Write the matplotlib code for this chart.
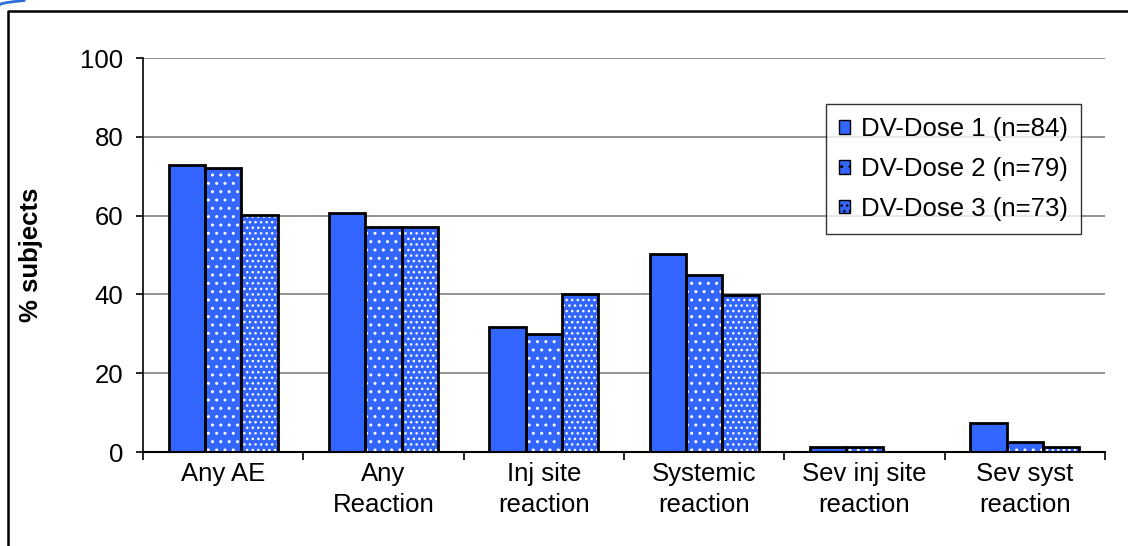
import numpy as np
import matplotlib
matplotlib.use("Agg")
import matplotlib.pyplot as plt
from matplotlib.lines import Line2D
from matplotlib.patches import Patch

plt.rcParams['font.family'] = ['Liberation Sans', 'DejaVu Sans']
plt.rcParams['hatch.linewidth'] = 1.0

categories = ["Any AE", "Any\nReaction", "Inj site\nreaction", "Systemic\nreaction",
              "Sev inj site\nreaction", "Sev syst\nreaction"]
dose1 = [72.8, 60.7, 31.8, 50.2, 1.2, 7.4]
dose2 = [72.1, 57.0, 30.0, 44.9, 1.2, 2.5]
dose3 = [60.2, 57.0, 40.0, 39.8, 0.0, 1.3]
labels = ["DV-Dose 1 (n=84)", "DV-Dose 2 (n=79)", "DV-Dose 3 (n=73)"]
hatches = [None, "..", "..."]

blue = "#3366ff"
fs = 18.5

fig = plt.figure(figsize=(11.28, 5.46), dpi=100)
ax = fig.add_axes([143 / 1128, 1 - 452 / 546, (1105 - 143) / 1128, (452 - 58) / 546])

x = np.arange(len(categories)) + 0.5
w = 0.2265
handles = []
for i, (vals, hatch) in enumerate(zip([dose1, dose2, dose3], hatches)):
    pos = x + (i - 1) * w
    # fill with white dot hatch, then a black outline on top
    ax.bar(pos, vals, w, color=blue, hatch=hatch, edgecolor="white", linewidth=0, zorder=2)
    ax.bar(pos, vals, w, fill=False, edgecolor="black", linewidth=2, zorder=3)
    handles.append(Patch(facecolor=blue, hatch=hatch, edgecolor="black", linewidth=1))

ax.set_xlim(0, len(categories))
ax.set_ylim(0, 100)
ax.set_yticks(np.arange(0, 101, 20))
ax.yaxis.grid(True, color="#808080", linewidth=1.2)
ax.set_axisbelow(True)

ax.set_xticks(np.arange(len(categories) + 1))
ax.set_xticklabels([])
ax.set_xticks(x, minor=True)
ax.set_xticklabels(categories, minor=True, fontsize=fs, linespacing=1.4)
ax.tick_params(axis="x", which="minor", length=0, pad=7)
ax.tick_params(axis="x", which="major", length=6, width=1.2, direction="out")
ax.tick_params(axis="y", length=5, width=1.2, labelsize=fs, pad=9)

for s in ["top", "right"]:
    ax.spines[s].set_visible(False)
ax.spines["left"].set_linewidth(1.2)
ax.spines["bottom"].set_linewidth(1.5)

ax.set_ylabel("% subjects", fontsize=fs, fontweight="bold")
ax.yaxis.set_label_coords(-100 / 962, 0.5)

leg = ax.legend(handles, labels, loc="upper left", bbox_to_anchor=(826 / 1128, 1 - 104 / 546),
                bbox_transform=fig.transFigure, fontsize=fs, frameon=True, fancybox=False,
                edgecolor="black", handlelength=0.45, handleheight=0.45, handletextpad=0.4,
                labelspacing=0.62, borderpad=0.5, borderaxespad=0)
leg.get_frame().set_linewidth(1)

# page frame and corner swoosh
fig.add_artist(Line2D([8 / 1128, 8 / 1128, 1.0], [0.0, 1 - 11 / 546, 1 - 11 / 546],
                      transform=fig.transFigure, color="black", linewidth=1.8))
t = np.linspace(0, 1, 20)
fig.add_artist(Line2D(t * 24 / 1128, 1 - (4.5 - 4 * t ** 0.6) / 546,
                      transform=fig.transFigure, color="#2a6fd6", linewidth=2))

fig.savefig("out.png", dpi=100)
